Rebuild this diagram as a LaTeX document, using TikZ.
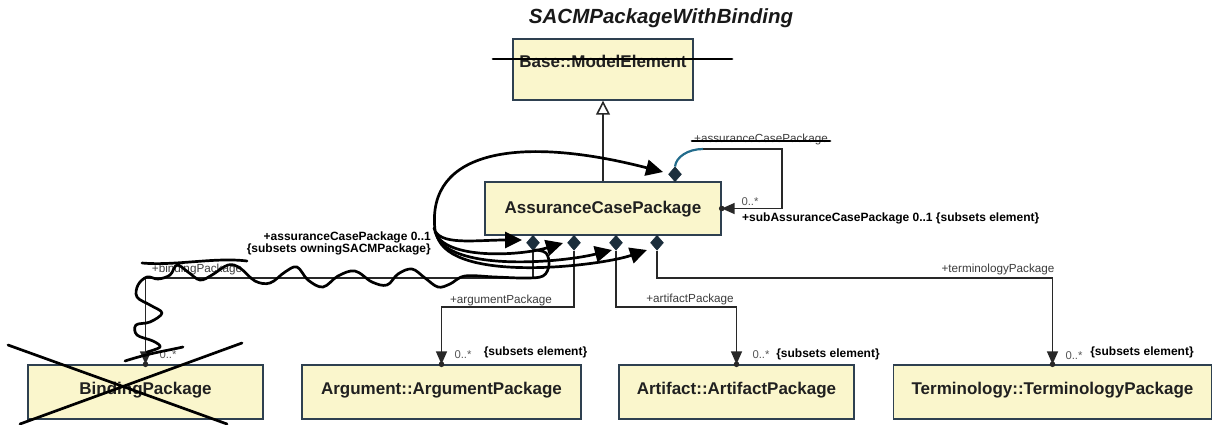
\documentclass[tikz,border=0pt]{standalone}
\usepackage{fontspec}
\setmainfont{Liberation Sans}
\usetikzlibrary{arrows.meta,shapes.geometric}
\definecolor{boxfill}{RGB}{250,246,204}
\definecolor{boxline}{RGB}{46,64,80}
\definecolor{diafill}{RGB}{27,46,60}
\definecolor{linecol}{RGB}{40,40,40}
\definecolor{txtdark}{RGB}{32,32,32}
\definecolor{lblgray}{RGB}{60,60,60}
\definecolor{multgray}{RGB}{85,85,85}
\definecolor{bluecurve}{RGB}{35,108,140}
\tikzset{
  clsbox/.style={draw=boxline, fill=boxfill, line width=1.4pt, rectangle, inner sep=0pt},
  clstext/.style={font=\bfseries\fontsize{17}{20}\selectfont, text=txtdark, inner sep=0pt},
  rolelbl/.style={font=\fontsize{11.7}{13}\selectfont, text=lblgray, inner sep=0pt},
  multlbl/.style={font=\fontsize{11.3}{13}\selectfont, text=multgray, inner sep=0pt},
  boldlbl/.style={font=\bfseries\fontsize{12}{12}\selectfont, text=black, inner sep=0pt},
  compdia/.style={diamond, fill=diafill, draw=diafill, line width=0.5pt, minimum width=13pt, minimum height=15pt, inner sep=0pt, shape aspect=0.85},
  assoc/.style={draw=linecol, line width=1.6pt},
  navarrow/.style={assoc, -{Triangle[length=13pt,width=11pt]}},
  hand/.style={draw=black, line width=2.7pt, line cap=round, line join=round},
  handarrow/.style={hand, -{Triangle[length=17pt,width=16pt]}},
}
\begin{document}
\begin{tikzpicture}[x=1pt,y=-1pt]
\useasboundingbox (0,0) rectangle (1213,424);

% title
\node[font=\bfseries\itshape\fontsize{20.5}{23}\selectfont, text=black!90, inner sep=0pt] (title) at (661,18) {SACMPackageWithBinding};

% classes
\node[clsbox, minimum width=180pt, minimum height=61pt] (base) at (603,69.5) {};
\node[clstext] (basetxt) at (603,61) {Base::ModelElement};
\node[clsbox, minimum width=236pt, minimum height=53pt] (acp) at (603,208.5) {};
\node[clstext] (acptxt) at (603,209) {AssuranceCasePackage};
\node[clsbox, minimum width=235pt, minimum height=54pt] (bind) at (145.5,392) {};
\node[clstext] (bindtxt) at (145.5,390) {BindingPackage};
\node[clsbox, minimum width=279pt, minimum height=54pt] (arg) at (441.5,392) {};
\node[clstext] (argtxt) at (441.5,390) {Argument::ArgumentPackage};
\node[clsbox, minimum width=235pt, minimum height=54pt] (art) at (736.5,392) {};
\node[clstext] (arttxt) at (736.5,390) {Artifact::ArtifactPackage};
\node[clsbox, minimum width=318pt, minimum height=54pt] (term) at (1052.5,392) {};
\node[clstext] (termtxt) at (1052.5,390) {Terminology::TerminologyPackage};

% generalization
\draw[assoc, -{Triangle[open, length=14pt, width=14pt, fill=white]}] (acp.north) -- (base.south);

% composition diamonds
\node[compdia, anchor=north] (d1) at (533,235) {};
\node[compdia, anchor=north] (d2) at (574,235) {};
\node[compdia, anchor=north] (d3) at (616,235) {};
\node[compdia, anchor=north] (d4) at (657,235) {};
\node[compdia, anchor=south] (dtop) at (675,182) {};

% bend points
\coordinate (bindbend) at (145.5,278);
\coordinate (argbend) at (441.5,307);
\coordinate (artbend) at (736.5,307);
\coordinate (termbend) at (1052.5,278);
\coordinate (selfstart) at (703,149);
\coordinate (selfc1) at (782,149);
\coordinate (selfc2) at (782,208.5);

% associations
\draw[navarrow] (d1.south) |- (bindbend) -- (bind.north);
\draw[navarrow] (d2.south) |- (argbend) -- (arg.north);
\draw[navarrow] (d3.south) |- (artbend) -- (art.north);
\draw[navarrow] (d4.south) |- (termbend) -- (term.north);
\draw[navarrow] (selfstart) -- (selfc1) -- (selfc2) -- (acp.east);
\foreach \n in {bind,arg,art,term} \fill[linecol] (\n.north) circle (2.8pt);
\fill[linecol] (acp.east) circle (2.8pt);

% blue re-routed stub
\draw[draw=bluecurve, line width=2.2pt] (dtop.north) .. controls (676,157) and (688,149) .. (selfstart);

% labels
\node[rolelbl] (lbind) at (197,269) {+bindingPackage};
\node[rolelbl] (larg) at (501,300) {+argumentPackage};
\node[rolelbl] (lart) at (690,299) {+artifactPackage};
\node[rolelbl] (lterm) at (998,269) {+terminologyPackage};
\node[rolelbl] (ltop) at (761,139) {+assuranceCasePackage};
\node[multlbl] (mself) at (750,202) {0..*};
\node[multlbl] (mbind) at (168,355) {0..*};
\node[multlbl] (marg) at (463,355) {0..*};
\node[multlbl] (mart) at (761,355) {0..*};
\node[multlbl] (mterm) at (1074,356) {0..*};
\node[boldlbl] (sarg) at (535.5,352) {\{subsets element\}};
\node[boldlbl] (sart) at (828,354) {\{subsets element\}};
\node[boldlbl] (sterm) at (1142,352) {\{subsets element\}};
\node[boldlbl, anchor=west] (lsub) at (742,218) {+subAssuranceCasePackage 0..1 \{subsets element\}};
\node[boldlbl, anchor=east, align=right] (lowner) at (431,243) {+assuranceCasePackage 0..1\\\{subsets owningSACMPackage\}};

% hand-drawn edits
\draw[hand] (493,59) -- (732,59);
\draw[hand] (692,141) -- (830,141);
\draw[hand] (142,263) .. controls (175,266) and (215,257) .. (247,261);
\draw[hand] (8,345) -- (227,424);
\draw[hand] (242,343) -- (20,424);
\draw[hand] (125,361) .. controls (150,353) and (165,351) .. (183,347);
\draw[hand] plot[smooth, tension=0.6] coordinates {
 (535,250) (546,253) (549,265) (543,276) (525,278) (495,277) (465,276) (450,284) (438,287) (425,278)
 (412,269) (398,274) (387,285) (372,282) (355,271) (338,276) (323,287) (308,280) (297,267) (285,272)
 (270,283) (255,281) (240,268) (228,265) (212,275) (200,280) (188,272) (177,265) (170,275) (158,279)
 (147,277) (138,285) (137,297) (150,305) (162,313) (150,322) (136,325) (137,335) (153,341) (160,347) (147,352)};

% hand-drawn arrows from the owning end label
\coordinate (hstart) at (435,230);
\draw[handarrow] (hstart) .. controls (426,150) and (520,135) .. (663,172);
\draw[handarrow] (434,228) .. controls (438,246) and (475,240) .. (522,240);
\draw[handarrow] (435,232) .. controls (445,260) and (520,256) .. (563,243);
\draw[handarrow] (436,234) .. controls (448,272) and (560,263) .. (612,250);
\draw[handarrow] (437,236) .. controls (452,284) and (600,266) .. (647,250);
\end{tikzpicture}
\end{document}
